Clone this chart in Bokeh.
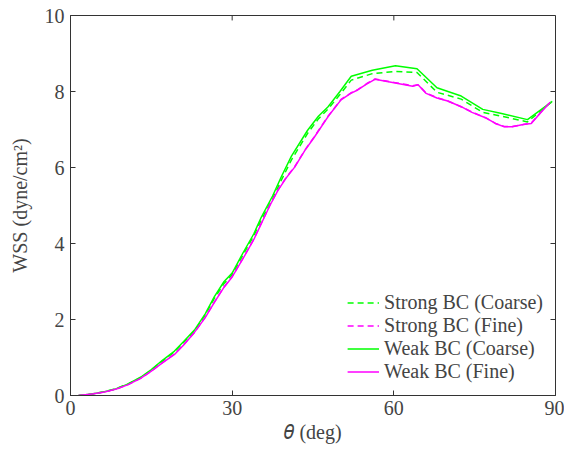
from bokeh.plotting import figure
from bokeh.models import (Range1d, FixedTicker, Legend, LegendItem)
from bokeh.embed import file_html
from bokeh.resources import INLINE

# ---- data ----
theta_fine = [1.5, 4, 6.3, 8.5, 10.6, 13, 15, 17, 19.3, 21, 23, 25, 26.7, 28.5, 30,
              32, 34, 35.4, 37, 38.5, 40, 41.6, 43.5, 45.3, 47.8, 50.2, 52, 53.3, 55,
              56.5, 58, 60, 62, 63.5, 64.5, 66, 68, 70, 72.5, 74.5, 77, 79, 80.5, 82,
              84, 85.5, 87, 89]
weak_fine = [0.0, 0.04, 0.09, 0.17, 0.28, 0.45, 0.64, 0.85, 1.08, 1.33, 1.66, 2.05, 2.45,
             2.85, 3.12, 3.6, 4.1, 4.52, 5.0, 5.4, 5.72, 6.01, 6.45, 6.81, 7.34, 7.78,
             7.95, 8.04, 8.2, 8.32, 8.28, 8.23, 8.18, 8.14, 8.18, 7.95, 7.83, 7.75, 7.6,
             7.45, 7.31, 7.15, 7.07, 7.07, 7.13, 7.16, 7.4, 7.72]
strong_fine = [0.0, 0.04, 0.09, 0.17, 0.28, 0.45, 0.64, 0.86, 1.09, 1.34, 1.66, 2.06, 2.46,
               2.86, 3.13, 3.61, 4.11, 4.53, 5.01, 5.41, 5.73, 6.02, 6.46, 6.82, 7.35, 7.79,
               7.96, 8.05, 8.21, 8.33, 8.29, 8.24, 8.19, 8.15, 8.18, 7.96, 7.84, 7.75, 7.6,
               7.46, 7.31, 7.15, 7.08, 7.08, 7.13, 7.17, 7.41, 7.72]

theta_coarse = [1.5, 4, 6.3, 8.5, 10.6, 13, 15, 17, 19.3, 21, 23, 25, 26.7, 28.5, 30,
                32, 34, 35.4, 37.5, 39.1, 41, 44, 46, 47.8, 50, 52.1, 56, 60.3, 64.3, 68,
                72.5, 76.5, 80, 84.8, 89.4]
weak_coarse = [0.0, 0.04, 0.1, 0.18, 0.3, 0.48, 0.68, 0.92, 1.17, 1.42, 1.72, 2.15, 2.6,
               3.0, 3.22, 3.75, 4.25, 4.69, 5.25, 5.75, 6.3, 6.98, 7.35, 7.6, 8.0, 8.4,
               8.56, 8.68, 8.6, 8.1, 7.88, 7.53, 7.42, 7.26, 7.74]
strong_coarse = [0.0, 0.04, 0.1, 0.18, 0.3, 0.47, 0.67, 0.9, 1.15, 1.4, 1.7, 2.12, 2.56,
                 2.95, 3.18, 3.7, 4.2, 4.62, 5.17, 5.66, 6.2, 6.9, 7.28, 7.54, 7.92, 8.3,
                 8.47, 8.53, 8.5, 7.98, 7.8, 7.45, 7.35, 7.2, 7.74]

x_ticks = [0, 30, 60, 90]
y_ticks = [0, 2, 4, 6, 8, 10]

GREEN = "#00FF00"
MAGENTA = "#FF00FF"
FONT = "Times New Roman"
AX = "#333333"
SIZE = "20px"

p = figure(width=564, height=450, output_backend="svg", toolbar_location=None,
           x_range=Range1d(0, 90), y_range=Range1d(0, 10),
           min_border_left=70, min_border_right=9, min_border_top=15,
           min_border_bottom=55)
p.grid.grid_line_color = None
p.outline_line_color = AX

p.xaxis.ticker = FixedTicker(ticks=x_ticks)
p.yaxis.ticker = FixedTicker(ticks=y_ticks)
p.axis.major_tick_in = 5
p.axis.major_tick_out = 0
p.axis.minor_tick_line_color = None
p.axis.axis_line_color = AX
p.axis.major_tick_line_color = AX
p.xaxis.major_label_text_font = FONT
p.yaxis.major_label_text_font = FONT
p.xaxis.major_label_text_font_size = SIZE
p.yaxis.major_label_text_font_size = SIZE
p.xaxis.axis_label_text_font = FONT + ", DejaVu Serif"
p.yaxis.axis_label_text_font = FONT
p.xaxis.axis_label_text_font_size = SIZE
p.yaxis.axis_label_text_font_size = SIZE
p.xaxis.axis_label_text_font_style = "normal"
p.yaxis.axis_label_text_font_style = "normal"
p.xaxis.major_label_standoff = 5
p.yaxis.major_label_standoff = 6
p.yaxis.axis_label = "WSS (dyne/cm²)"
p.yaxis.axis_label_standoff = 11
p.xaxis.axis_label = "𝜃 (deg)"
p.xaxis.axis_label_standoff = 3

# inward ticks on the top and right frame edges
tick_dx = 0.93  # ~5 px in x data units
tick_dy = 0.13  # ~5 px in y data units
p.segment(x0=x_ticks, y0=[10] * len(x_ticks), x1=x_ticks,
          y1=[10 - tick_dy] * len(x_ticks), line_color=AX, line_width=1)
p.segment(x0=[90] * len(y_ticks), y0=y_ticks, x1=[90 - tick_dx] * len(y_ticks),
          y1=y_ticks, line_color=AX, line_width=1)

r1 = p.line(theta_coarse, strong_coarse, line_color=GREEN, line_width=1.5, line_dash="6 4")
r2 = p.line(theta_fine, strong_fine, line_color=MAGENTA, line_width=1.5, line_dash="6 4")
r3 = p.line(theta_coarse, weak_coarse, line_color=GREEN, line_width=1.5)
r4 = p.line(theta_fine, weak_fine, line_color=MAGENTA, line_width=1.5)

legend = Legend(items=[
    LegendItem(label="Strong BC (Coarse)", renderers=[r1]),
    LegendItem(label="Strong BC (Fine)", renderers=[r2]),
    LegendItem(label="Weak BC (Coarse)", renderers=[r3]),
    LegendItem(label="Weak BC (Fine)", renderers=[r4]),
], location="bottom_right")
legend.border_line_color = None
legend.background_fill_alpha = 0
legend.label_text_font = FONT
legend.label_text_font_size = SIZE
legend.glyph_width = 32
legend.glyph_height = 23
legend.label_height = 23
legend.label_standoff = 5
legend.spacing = 0
legend.padding = 4
legend.margin = 12
p.add_layout(legend)

open("out.html", "w").write(file_html(p, INLINE))
